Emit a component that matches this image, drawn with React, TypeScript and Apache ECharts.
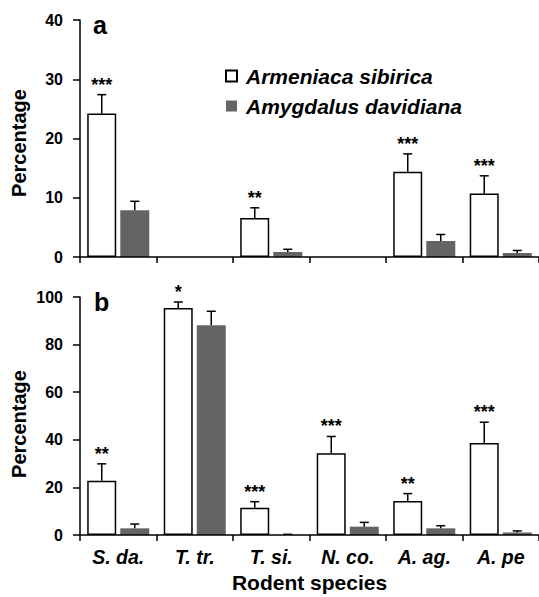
import React, { useEffect, useRef } from "react";
import * as echarts from "echarts";

const categories = ["S. da.", "T. tr.", "T. si.", "N. co.", "A. ag.", "A. pe"];
const seriesNames = ["Armeniaca sibirica", "Amygdalus davidiana"];

// panel a
const aArmeniaca = [24.2, 0, 6.6, 0, 14.4, 10.7];
const aArmeniacaErr = [3.2, 0, 1.7, 0, 3.0, 3.0];
const aAmygdalus = [7.9, 0, 0.85, 0, 2.7, 0.67];
const aAmygdalusErr = [1.5, 0, 0.45, 0, 1.1, 0.43];
const aSig = ["***", "", "**", "", "***", "***"];

// panel b
const bArmeniaca = [22.8, 95.4, 11.5, 34.4, 14.3, 38.7];
const bArmeniacaErr = [7.1, 2.5, 2.5, 7.0, 3.1, 8.7];
const bAmygdalus = [2.8, 88.1, 0, 3.5, 2.8, 1.0];
const bAmygdalusErr = [1.8, 5.9, 0.3, 1.8, 1.1, 0.7];
const bSig = ["**", "*", "***", "***", "**", "***"];

const aMax = 40;
const aInterval = 10;
const bMax = 100;
const bInterval = 20;

const FONT = "'Liberation Sans', Arial, Helvetica, sans-serif";
const GRAY = "#646464";
const BAR_W = 29;
const OFFSET = 16.5;

const barData = (vals: number[]) => vals.map((v) => (v === 0 ? null : v));

function makeErr(
  vals: number[],
  errs: number[],
  sig: string[] | null,
  offset: number,
  axisIdx: number
) {
  return {
    type: "custom",
    xAxisIndex: axisIdx,
    yAxisIndex: axisIdx,
    z: 5,
    silent: true,
    data: vals.map((v, i) => [i, v, errs[i]]),
    encode: { x: 0, y: 1 },
    renderItem: (params: any, api: any) => {
      const i = api.value(0);
      const v = api.value(1);
      const e = api.value(2);
      const children: any[] = [];
      const base = api.coord([i, v]);
      const top = api.coord([i, v + e]);
      const x = base[0] + offset;
      if (e > 0) {
        children.push({
          type: "line",
          shape: { x1: x, y1: base[1], x2: x, y2: top[1] },
          style: { stroke: "#000", lineWidth: 1.5 },
        });
        children.push({
          type: "line",
          shape: { x1: x - 4.5, y1: top[1], x2: x + 4.5, y2: top[1] },
          style: { stroke: "#000", lineWidth: 1.5 },
        });
      }
      const s = sig ? sig[params.dataIndex] : "";
      if (s) {
        children.push({
          type: "text",
          x: x,
          y: top[1] - 1,
          style: {
            text: s,
            align: "center",
            verticalAlign: "bottom",
            fontFamily: FONT,
            fontSize: 18,
            fontWeight: "bold",
            fill: "#000",
          },
        });
      }
      return { type: "group", children };
    },
  };
}

export default function App() {
  const ref = useRef<HTMLDivElement>(null);

  useEffect(() => {
    if (!ref.current) return;
    const chart = echarts.init(ref.current, undefined, { renderer: "svg" });

    const axisLine = { show: true, lineStyle: { color: "#000", width: 1.5 } };
    const xAxisBase = (idx: number, showLabels: boolean) => ({
      type: "category",
      gridIndex: idx,
      data: categories,
      boundaryGap: true,
      z: 10,
      axisLine,
      axisTick: {
        show: true,
        interval: 0,
        length: 6,
        inside: false,
        lineStyle: { color: "#000", width: 1.5 },
      },
      axisLabel: {
        show: showLabels,
        interval: 0,
        margin: 12,
        color: "#000",
        fontFamily: FONT,
        fontSize: 19.5,
        fontWeight: "bold",
        fontStyle: "italic",
      },
      splitLine: { show: false },
      ...(showLabels
        ? {
            name: "Rodent species",
            nameLocation: "middle",
            nameGap: 37,
            nameTextStyle: {
              color: "#000",
              fontFamily: FONT,
              fontSize: 21,
              fontWeight: "bold",
            },
          }
        : {}),
    });
    const yAxisBase = (idx: number, max: number, interval: number) => ({
      type: "value",
      gridIndex: idx,
      min: 0,
      max,
      interval,
      z: 10,
      axisLine,
      axisTick: {
        show: true,
        length: 7,
        lineStyle: { color: "#000", width: 1.5 },
      },
      axisLabel: {
        margin: 17,
        color: "#000",
        fontFamily: FONT,
        fontSize: 16,
        fontWeight: "bold",
      },
      splitLine: { show: false },
    });

    const whiteStyle = { color: "#fff", borderColor: "#000", borderWidth: 1.5 };
    const grayStyle = { color: GRAY, borderWidth: 0 };

    const option: any = {
      animation: false,
      backgroundColor: "#fff",
      textStyle: { fontFamily: FONT },
      grid: [
        { left: 80, right: 0, top: 20, height: 237 },
        { left: 80, right: 0, top: 297, height: 238 },
      ],
      legend: {
        left: 220,
        top: 60.5,
        orient: "vertical",
        icon: "rect",
        itemWidth: 11,
        itemHeight: 11,
        itemGap: 9,
        selectedMode: false,
        data: seriesNames,
        textStyle: {
          fontFamily: FONT,
          fontSize: 21,
          lineHeight: 21,
          fontWeight: "bold",
          fontStyle: "italic",
          color: "#000",
          padding: [0, 0, 0, 4],
        },
      },
      xAxis: [xAxisBase(0, false), xAxisBase(1, true)],
      yAxis: [yAxisBase(0, aMax, aInterval), yAxisBase(1, bMax, bInterval)],
      graphic: [
        {
          type: "text",
          x: 93,
          y: 25,
          style: {
            text: "a",
            fontFamily: FONT,
            fontSize: 25,
            fontWeight: "bold",
            fill: "#000",
            verticalAlign: "middle",
          },
        },
        {
          type: "text",
          x: 94,
          y: 302,
          style: {
            text: "b",
            fontFamily: FONT,
            fontSize: 25,
            fontWeight: "bold",
            fill: "#000",
            verticalAlign: "middle",
          },
        },
        {
          type: "text",
          x: 19,
          y: 143,
          rotation: Math.PI / 2,
          style: {
            text: "Percentage",
            fontFamily: FONT,
            fontSize: 20,
            fontWeight: "bold",
            fill: "#000",
            align: "center",
            verticalAlign: "middle",
          },
        },
        {
          type: "text",
          x: 19,
          y: 424,
          rotation: Math.PI / 2,
          style: {
            text: "Percentage",
            fontFamily: FONT,
            fontSize: 20,
            fontWeight: "bold",
            fill: "#000",
            align: "center",
            verticalAlign: "middle",
          },
        },
      ],
      series: [
        {
          name: seriesNames[0],
          type: "bar",
          xAxisIndex: 0,
          yAxisIndex: 0,
          data: barData(aArmeniaca),
          barWidth: BAR_W,
          barGap: "14%",
          itemStyle: whiteStyle,
        },
        {
          name: seriesNames[1],
          type: "bar",
          xAxisIndex: 0,
          yAxisIndex: 0,
          data: barData(aAmygdalus),
          barWidth: BAR_W,
          barGap: "14%",
          itemStyle: grayStyle,
        },
        {
          name: seriesNames[0],
          type: "bar",
          xAxisIndex: 1,
          yAxisIndex: 1,
          data: barData(bArmeniaca),
          barWidth: BAR_W,
          barGap: "14%",
          itemStyle: whiteStyle,
        },
        {
          name: seriesNames[1],
          type: "bar",
          xAxisIndex: 1,
          yAxisIndex: 1,
          data: barData(bAmygdalus),
          barWidth: BAR_W,
          barGap: "14%",
          itemStyle: grayStyle,
        },
        makeErr(aArmeniaca, aArmeniacaErr, aSig, -OFFSET, 0),
        makeErr(aAmygdalus, aAmygdalusErr, null, OFFSET, 0),
        makeErr(bArmeniaca, bArmeniacaErr, bSig, -OFFSET, 1),
        makeErr(bAmygdalus, bAmygdalusErr, null, OFFSET, 1),
      ],
    };

    chart.setOption(option);
    return () => {
      chart.dispose();
    };
  }, []);

  return (
    <div
      ref={ref}
      style={{ position: "absolute", left: 0, top: 0, width: 539, height: 597 }}
    />
  );
}
